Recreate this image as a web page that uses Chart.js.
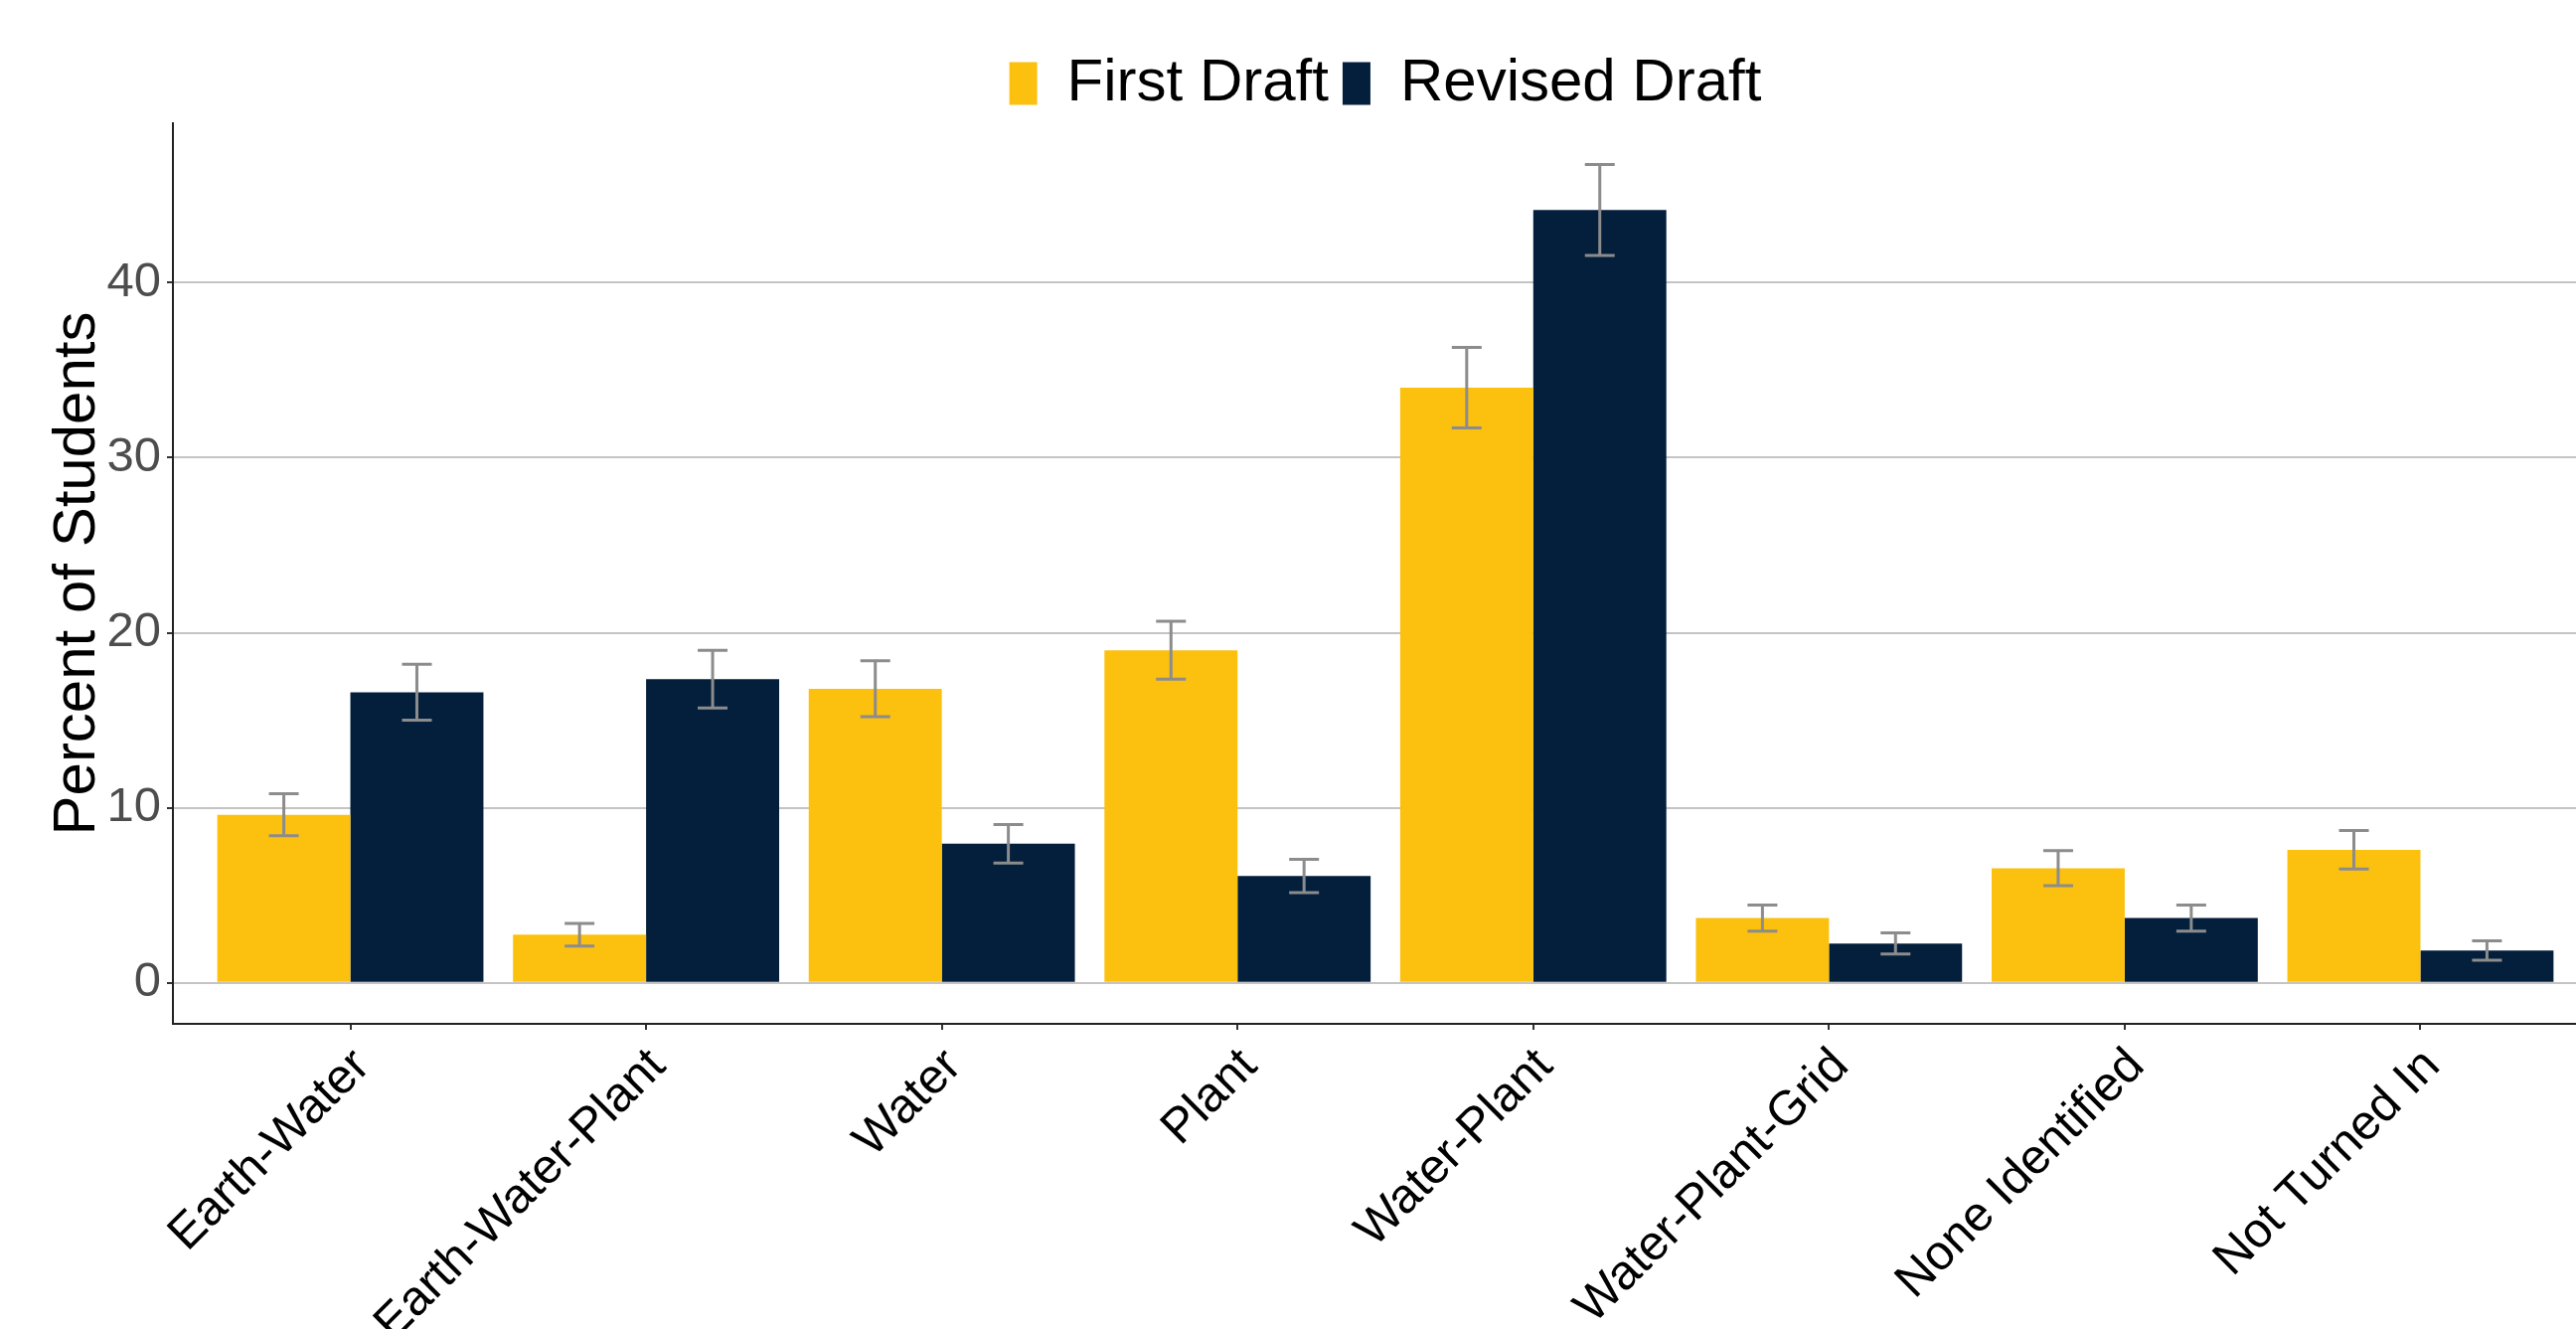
<!DOCTYPE html>
<html>
<head>
<meta charset="utf-8">
<title>First vs Revised Draft</title>
<script src="https://cdn.jsdelivr.net/npm/chart.js@4/dist/chart.umd.min.js"></script>
<style>
  html, body { margin: 0; padding: 0; background: #fff; overflow: hidden; }
  #wrap { width: 2620px; height: 1337px; }
</style>
</head>
<body>
<div id="wrap"><canvas id="draftChart" width="2620" height="1337"></canvas></div>
<script>
var categories = ["Earth-Water", "Earth-Water-Plant", "Water", "Plant", "Water-Plant", "Water-Plant-Grid", "None Identified", "Not Turned In"];
var firstDraft = [9.6, 2.75, 16.8, 19.0, 34.0, 3.7, 6.55, 7.6];
var firstDraftErr = [1.2, 0.65, 1.6, 1.65, 2.3, 0.75, 1.0, 1.1];
var revisedDraft = [16.6, 17.35, 7.95, 6.1, 44.15, 2.25, 3.7, 1.85];
var revisedDraftErr = [1.6, 1.65, 1.1, 0.95, 2.6, 0.6, 0.75, 0.55];
var yTicks = [0, 10, 20, 30, 40];

Chart.defaults.font.family = "'Liberation Sans', Arial, sans-serif";

function toPoints(vals) {
  return vals.map(function (v, i) { return { x: i + 1, y: v }; });
}

// draws the grey whiskers on top of every bar
var errorBars = {
  id: 'errorBars',
  afterDatasetsDraw: function (chart) {
    var ctx = chart.ctx;
    var yScale = chart.scales.y;
    var errs = [firstDraftErr, revisedDraftErr];
    ctx.save();
    ctx.strokeStyle = '#8c8c8c';
    ctx.lineWidth = 3;
    chart.data.datasets.forEach(function (ds, di) {
      var meta = chart.getDatasetMeta(di);
      meta.data.forEach(function (bar, j) {
        var v = ds.data[j].y;
        var top = yScale.getPixelForValue(v + errs[di][j]);
        var bot = yScale.getPixelForValue(v - errs[di][j]);
        var half = 15;
        ctx.beginPath();
        ctx.moveTo(bar.x, top); ctx.lineTo(bar.x, bot);
        ctx.moveTo(bar.x - half, top); ctx.lineTo(bar.x + half, top);
        ctx.moveTo(bar.x - half, bot); ctx.lineTo(bar.x + half, bot);
        ctx.stroke();
      });
    });
    ctx.restore();
  }
};

new Chart("draftChart", {
  type: "bar",
  data: {
    datasets: [{
      label: "First Draft",
      data: toPoints(firstDraft),
      backgroundColor: "#fcc00e",
      categoryPercentage: 0.9,
      barPercentage: 1.0
    }, {
      label: "Revised Draft",
      data: toPoints(revisedDraft),
      backgroundColor: "#031f3c",
      categoryPercentage: 0.9,
      barPercentage: 1.0
    }]
  },
  options: {
    responsive: false,
    animation: false,
    layout: { padding: { top: 40, left: 0, right: 6, bottom: 0 } },
    plugins: {
      legend: {
        position: 'top',
        fullSize: false,
        labels: { boxWidth: 28, boxHeight: 43, font: { size: 60 }, color: '#000', padding: 14 }
      },
      tooltip: { enabled: false }
    },
    scales: {
      x: {
        type: 'linear',
        min: 0.4,
        max: 8.6,
        offset: false,
        afterBuildTicks: function (axis) {
          axis.ticks = categories.map(function (c, i) { return { value: i + 1 }; });
        },
        afterFit: function (scale) { scale.height = 307; },
        grid: { offset: false, drawOnChartArea: false, tickLength: 6, color: '#333', lineWidth: 2 },
        border: { color: '#222', width: 2 },
        ticks: {
          autoSkip: false,
          minRotation: 45,
          maxRotation: 45,
          color: '#000',
          font: { size: 49 },
          padding: 8,
          labelOffset: 12,
          callback: function (v) { return categories[v - 1]; }
        }
      },
      y: {
        min: -2.34,
        max: 49.1,
        afterBuildTicks: function (axis) {
          axis.ticks = yTicks.map(function (v) { return { value: v }; });
        },
        afterFit: function (scale) { scale.width = 174; },
        grid: { color: '#c4c4c4', lineWidth: 2, tickLength: 6, tickColor: '#333' },
        border: { color: '#222', width: 2 },
        ticks: { color: '#4d4d4d', font: { size: 49 }, padding: 6 },
        title: { display: true, text: 'Percent of Students', color: '#000', font: { size: 60 }, padding: { top: 42, bottom: 0 } }
      }
    }
  },
  plugins: [errorBars]
});
</script>
</body>
</html>
